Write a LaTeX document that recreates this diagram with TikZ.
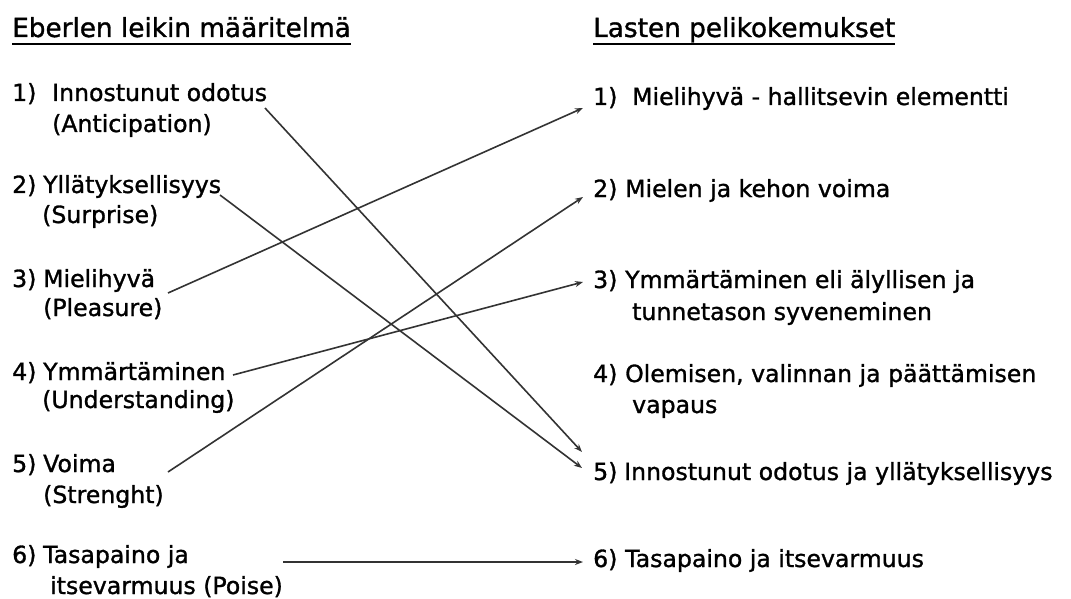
\documentclass[tikz,border=0pt]{standalone}
\usepackage{fontspec}
\setmainfont{DejaVu Sans}[FakeBold=1.2]
\usetikzlibrary{arrows.meta}
\begin{document}
\begin{tikzpicture}[x=1pt,y=-1pt,
  txt/.style={anchor=base west,inner sep=0pt,text=black,font=\fontsize{23.6}{27}\selectfont},
  head/.style={anchor=base west,inner sep=0pt,text=black,font=\fontsize{26.3}{30}\selectfont},
  uline/.style={line width=1.8pt,draw=black},
  conn/.style={line width=1.6pt,draw=black!80,-{Stealth[length=8pt,width=6pt]}}]
\useasboundingbox[fill=white] (0,0) rectangle (1071,599);
% headers
\node[head] (h1) at (12,37) {Eberlen leikin määritelmä};
\node[head] (h2) at (593,37) {Lasten pelikokemukset};
\draw[uline] ([shift={(0,7)}]h1.base west) -- ([shift={(0,7)}]h1.base east);
\draw[uline] ([shift={(0,7)}]h2.base west) -- ([shift={(0,7)}]h2.base east);
% left column
\node[txt] (l1a) at (12,101) {\makebox[40pt][l]{1)}Innostunut odotus};
\node[txt] (l1b) at (52,132) {(Anticipation)};
\node[txt] (l2a) at (12,193) {\makebox[31pt][l]{2)}Yllätyksellisyys};
\node[txt] (l2b) at (42,223) {(Surprise)};
\node[txt] (l3a) at (12,287) {\makebox[31pt][l]{3)}Mielihyvä};
\node[txt] (l3b) at (43,316) {(Pleasure)};
\node[txt] (l4a) at (12,380) {\makebox[31pt][l]{4)}Ymmärtäminen};
\node[txt] (l4b) at (42,408) {(Understanding)};
\node[txt] (l5a) at (12,472) {\makebox[31pt][l]{5)}Voima};
\node[txt] (l5b) at (43,503) {(Strenght)};
\node[txt] (l6a) at (12,563) {\makebox[31pt][l]{6)}Tasapaino ja};
\node[txt] (l6b) at (50,594) {itsevarmuus (Poise)};
% right column
\node[txt] (r1) at (593,105) {\makebox[39pt][l]{1)}Mielihyvä - hallitsevin elementti};
\node[txt] (r2) at (593,197) {\makebox[32pt][l]{2)}Mielen ja kehon voima};
\node[txt] (r3) at (593,288) {\makebox[32pt][l]{3)}Ymmärtäminen eli älyllisen ja};
\node[txt] (r3b) at (632,320) {tunnetason syveneminen};
\node[txt] (r4) at (593,382) {\makebox[32pt][l]{4)}Olemisen, valinnan ja päättämisen};
\node[txt] (r4b) at (632,413) {vapaus};
\node[txt] (r5) at (593,480) {\makebox[31pt][l]{5)}Innostunut odotus ja yllätyksellisyys};
\node[txt] (r6) at (593,567) {\makebox[32pt][l]{6)}Tasapaino ja itsevarmuus};
% connectors
\draw[conn] ([shift={(253,7)}]l1a.base west) -- ([shift={(-11,-28)}]r5.base west);
\draw[conn] ([shift={(208,2)}]l2a.base west) -- ([shift={(-11,-12)}]r5.base west);
\draw[conn] ([shift={(156,6)}]l3a.base west) -- ([shift={(-10,3)}]r1.base west);
\draw[conn] ([shift={(221,-5)}]l4a.base west) -- ([shift={(-10,-6)}]r3.base west);
\draw[conn] ([shift={(156,0)}]l5a.base west) -- ([shift={(-10,0)}]r2.base west);
\draw[conn] ([shift={(271,-1)}]l6a.base west) -- ([shift={(-10,-5)}]r6.base west);
\end{tikzpicture}
\end{document}
